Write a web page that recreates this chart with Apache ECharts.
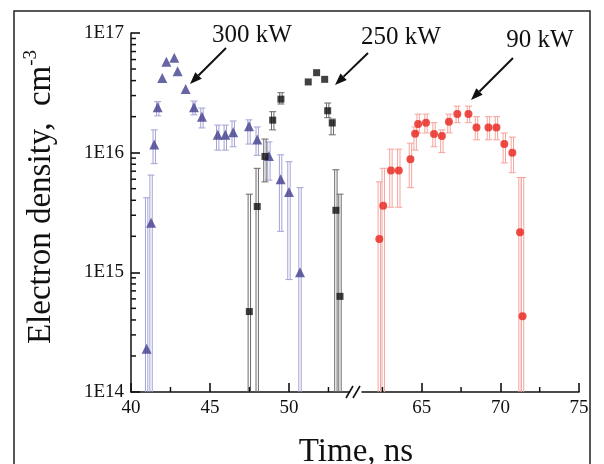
<!DOCTYPE html>
<html>
<head>
<meta charset="utf-8">
<script src="https://cdn.jsdelivr.net/npm/echarts@6/dist/echarts.min.js"></script>
<style>
  html, body { margin: 0; padding: 0; background: #fff; }
  #chart { width: 604px; height: 464px; }
</style>
</head>
<body>
<div id="chart"></div>
<script>
// 300 kW (triangles)
var triTime    = [40.99, 41.27, 41.47, 41.69, 41.98, 42.24, 42.74, 42.95, 43.46, 43.99, 44.49, 45.49, 45.97, 46.47, 47.47, 47.99, 48.73, 49.47, 50.0, 50.7];
var triDensity = [2.3e14, 2.6e15, 1.17e16, 2.4e16, 4.2e16, 5.75e16, 6.2e16, 4.8e16, 3.4e16, 2.4e16, 2.0e16, 1.41e16, 1.41e16, 1.48e16, 1.66e16, 1.29e16, 9.4e15, 6.0e15, 4.7e15, 1.0e15];
var triLow     = [1e13, 1e13, 8.1e15, 2.03e16, null, null, null, null, null, 2.07e16, 1.61e16, 1.05e16, 1.05e16, 1.12e16, 1.18e16, 9.5e15, 5.9e15, 2.2e15, 8.7e14, 1e13];
var triHigh    = [4.2e15, 6.5e15, 1.55e16, 2.67e16, null, null, null, null, null, 2.7e16, 2.36e16, 1.7e16, 1.7e16, 1.84e16, 1.88e16, 1.64e16, 1.23e16, 9.6e15, 8.4e15, 5.1e15];

// 250 kW (squares)
var sqTime    = [47.49, 47.99, 48.48, 48.97, 49.49, 51.22, 51.75, 52.26, 52.45, 52.74, 52.97, 53.23];
var sqDensity = [4.7e14, 3.55e15, 9.3e15, 1.87e16, 2.8e16, 3.9e16, 4.66e16, 4.1e16, 2.24e16, 1.77e16, 3.3e15, 6.3e14];
var sqLow     = [1e13, 1e13, 5.7e15, 1.55e16, 2.55e16, null, null, null, 1.96e16, 1.41e16, 1e13, 1e13];
var sqHigh    = [4.5e15, 7.4e15, 1.3e16, 2.2e16, 3.17e16, null, null, null, 2.6e16, 1.91e16, 7.2e15, 4.5e15];

// 90 kW (circles)
var cirTime    = [62.30, 62.55, 63.04, 63.54, 64.28, 64.58, 64.77, 65.27, 65.78, 66.28, 66.73, 67.26, 67.97, 68.48, 69.24, 69.75, 70.25, 70.76, 71.25, 71.41];
var cirDensity = [1.9e15, 3.6e15, 7.1e15, 7.1e15, 8.8e15, 1.44e16, 1.74e16, 1.78e16, 1.43e16, 1.38e16, 1.81e16, 2.1e16, 2.1e16, 1.62e16, 1.62e16, 1.62e16, 1.18e16, 1.0e16, 2.16e15, 4.3e14];
var cirLow     = [1e13, 1e13, 3.5e15, 3.5e15, 5.1e15, 1.05e16, 1.46e16, 1.46e16, 1.12e16, 1.0e16, 1.46e16, 1.78e16, 1.78e16, 1.28e16, 1.28e16, 1.28e16, 8.2e15, 6.8e15, 1e13, 1e13];
var cirHigh    = [5.7e15, 7.4e15, 1.07e16, 1.07e16, 1.2e16, 1.64e16, 2.1e16, 2.1e16, 1.78e16, 1.55e16, 2.1e16, 2.45e16, 2.45e16, 2.0e16, 2.0e16, 2.0e16, 1.46e16, 1.35e16, 6.2e15, 6.2e15];

// axes
var leftRange = [40, 53.8];
var rightRange = [61.2, 75];
var yRange = [1e14, 1e17];
var leftMajor = [40, 45, 50];
var leftMinor = [42.5, 47.5, 52.5];
var rightMajor = [65, 70, 75];
var rightMinor = [62.5, 67.5, 72.5];
var yTickLabels = ['1E14', '1E15', '1E16', '1E17'];
var yDecades = [1e14, 1e15, 1e16];
var yMantissas = [2, 3, 4, 5, 6, 7, 8, 9];

var serif = 'Liberation Serif';
var ink = '#111';
var yMinor = [];
yDecades.forEach(function (d) {
  yMantissas.forEach(function (m) { yMinor.push(m * d); });
});

function zipPoints(xs, ys) {
  return xs.map(function (x, i) { return [x, ys[i]]; });
}
function zipBars(xs, lo, hi) {
  var out = [];
  xs.forEach(function (x, i) { if (lo[i] != null) out.push([x, lo[i], hi[i]]); });
  return out;
}

// error bar drawn as a thin double line with caps, cut at the bottom of the plot
function errorBars(color) {
  return function (params, api) {
    var x = api.value(0);
    var top = api.coord([x, api.value(2)]);
    var bot = api.coord([x, api.value(1)]);
    var cs = params.coordSys;
    var yMax = cs.y + cs.height;
    var clipped = bot[1] > yMax;
    var y2 = Math.min(bot[1], yMax);
    var st = { stroke: color, lineWidth: 1 };
    var kids = [
      { type: 'line', shape: { x1: top[0] - 1.2, y1: top[1], x2: top[0] - 1.2, y2: y2 }, style: st },
      { type: 'line', shape: { x1: top[0] + 1.2, y1: top[1], x2: top[0] + 1.2, y2: y2 }, style: st },
      { type: 'line', shape: { x1: top[0] - 3.5, y1: top[1], x2: top[0] + 3.5, y2: top[1] }, style: st }
    ];
    if (!clipped) {
      kids.push({ type: 'line', shape: { x1: top[0] - 3.5, y1: y2, x2: top[0] + 3.5, y2: y2 }, style: st });
    }
    return { type: 'group', children: kids };
  };
}

// short inward minor ticks, placed through the axes
function minorTicks(vertical) {
  return function (params, api) {
    var p = api.coord([api.value(0), api.value(1)]);
    var shape = vertical
      ? { x1: p[0], y1: p[1], x2: p[0] + 5, y2: p[1] }
      : { x1: p[0], y1: p[1], x2: p[0], y2: p[1] - 5 };
    return { type: 'line', shape: shape, style: { stroke: ink, lineWidth: 1.5 } };
  };
}

function majorX(grid, range, ticks) {
  return {
    type: 'value', gridIndex: grid, min: range[0], max: range[1], position: 'bottom',
    axisLine: { show: true, lineStyle: { color: ink, width: 1.5 } },
    axisTick: { show: true, inside: true, length: 9, customValues: ticks, lineStyle: { color: ink, width: 1.6 } },
    axisLabel: { customValues: ticks, margin: 7, color: ink, fontFamily: serif, fontSize: 19 },
    splitLine: { show: false }
  };
}

function arrow(x1, y1, x2, y2) {
  var a = Math.atan2(y2 - y1, x2 - x1), len = 12, w = 4.5;
  var bx = x2 - len * Math.cos(a), by = y2 - len * Math.sin(a);
  var s = Math.sin(a), c = Math.cos(a);
  return [
    { type: 'line', shape: { x1: x1, y1: y1, x2: bx, y2: by }, style: { stroke: ink, lineWidth: 2 } },
    { type: 'polygon', shape: { points: [[x2, y2], [bx + w * s, by - w * c], [bx - w * s, by + w * c]] }, style: { fill: ink } }
  ];
}
function label(text, x, y) {
  return { type: 'text', x: x, y: y, style: { text: text, fill: ink, font: '25px "Liberation Serif"', align: 'center', verticalAlign: 'middle', textAlign: 'center', textVerticalAlign: 'middle' } };
}

var graphics = [
  { type: 'rect', shape: { x: 14, y: 11, width: 576, height: 470 }, style: { fill: null, stroke: '#222', lineWidth: 1.5 }, silent: true, z: -1 },
  { type: 'line', shape: { x1: 346, y1: 398, x2: 353, y2: 386 }, style: { stroke: ink, lineWidth: 1.6 } },
  { type: 'line', shape: { x1: 353, y1: 398, x2: 360, y2: 386 }, style: { stroke: ink, lineWidth: 1.6 } },
  {
    type: 'text', x: 356, y: 452,
    style: { text: 'Time, ns', fill: ink, font: '33px "Liberation Serif"', align: 'center', verticalAlign: 'middle', textAlign: 'center', textVerticalAlign: 'middle' }
  },
  {
    type: 'text', x: 40, y: 197, rotation: Math.PI / 2,
    style: {
      text: '{m|Electron density,  cm}{s|-3}', fill: ink, align: 'center', verticalAlign: 'middle', textAlign: 'center', textVerticalAlign: 'middle',
      rich: {
        m: { fontFamily: serif, fontSize: 33, lineHeight: 36, verticalAlign: 'bottom', fill: ink },
        s: { fontFamily: serif, fontSize: 19, lineHeight: 20, verticalAlign: 'top', fill: ink }
      }
    }
  },
  label('300 kW', 252, 35),
  label('250 kW', 401, 37),
  label('90 kW', 540, 40)
].concat(arrow(226, 48, 190, 84), arrow(368, 53, 335, 85), arrow(513, 58, 471, 100));

var chart = echarts.init(document.getElementById('chart'), null, { renderer: 'canvas' });

chart.setOption({
  animation: false,
  backgroundColor: '#fff',
  grid: [
    { left: 131, right: 255, top: 33, bottom: 72 },
    { left: 362, right: 25, top: 33, bottom: 72 }
  ],
  xAxis: [
    majorX(0, leftRange, leftMajor),
    majorX(1, rightRange, rightMajor)
  ],
  yAxis: [
    {
      type: 'log', gridIndex: 0, min: yRange[0], max: yRange[1], logBase: 10, splitNumber: 3,
      axisLine: { show: true, lineStyle: { color: ink, width: 1.5 } },
      axisTick: { show: true, inside: true, length: 9, lineStyle: { color: ink, width: 1.6 } },
      axisLabel: {
        margin: 7, color: ink, fontFamily: serif, fontSize: 19,
        formatter: function (v) { return yTickLabels[Math.round(Math.log10(v)) - 14]; }
      },
      splitLine: { show: false }
    },
    { type: 'log', gridIndex: 1, min: yRange[0], max: yRange[1], logBase: 10, show: false, splitLine: { show: false } }
  ],
  graphic: graphics,
  series: [
    {
      type: 'custom', xAxisIndex: 0, yAxisIndex: 0, clip: false, z: 4, silent: true,
      renderItem: minorTicks(false), data: leftMinor.map(function (v) { return [v, yRange[0]]; })
    },
    {
      type: 'custom', xAxisIndex: 1, yAxisIndex: 1, clip: false, z: 4, silent: true,
      renderItem: minorTicks(false), data: rightMinor.map(function (v) { return [v, yRange[0]]; })
    },
    {
      type: 'custom', xAxisIndex: 0, yAxisIndex: 0, clip: false, z: 4, silent: true,
      renderItem: minorTicks(true), data: yMinor.map(function (v) { return [leftRange[0], v]; })
    },
    {
      type: 'custom', xAxisIndex: 0, yAxisIndex: 0, clip: true, z: 1,
      renderItem: errorBars('#a3a3d6'), data: zipBars(triTime, triLow, triHigh)
    },
    {
      type: 'custom', xAxisIndex: 0, yAxisIndex: 0, clip: true, z: 1,
      renderItem: errorBars('#6a6a6a'), data: zipBars(sqTime, sqLow, sqHigh)
    },
    {
      type: 'custom', xAxisIndex: 1, yAxisIndex: 1, clip: true, z: 1,
      renderItem: errorBars('#f4a49c'), data: zipBars(cirTime, cirLow, cirHigh)
    },
    {
      type: 'scatter', xAxisIndex: 0, yAxisIndex: 0, z: 3,
      symbol: 'triangle', symbolSize: 10, itemStyle: { color: '#423f8e' },
      data: zipPoints(triTime, triDensity)
    },
    {
      type: 'scatter', xAxisIndex: 0, yAxisIndex: 0, z: 3,
      symbol: 'rect', symbolSize: 7, itemStyle: { color: ink },
      data: zipPoints(sqTime, sqDensity)
    },
    {
      type: 'scatter', xAxisIndex: 1, yAxisIndex: 1, z: 3,
      symbol: 'circle', symbolSize: 8, itemStyle: { color: '#e8231b' },
      data: zipPoints(cirTime, cirDensity)
    }
  ]
});

window.addEventListener('resize', function () { chart.resize(); });
</script>
</body>
</html>
